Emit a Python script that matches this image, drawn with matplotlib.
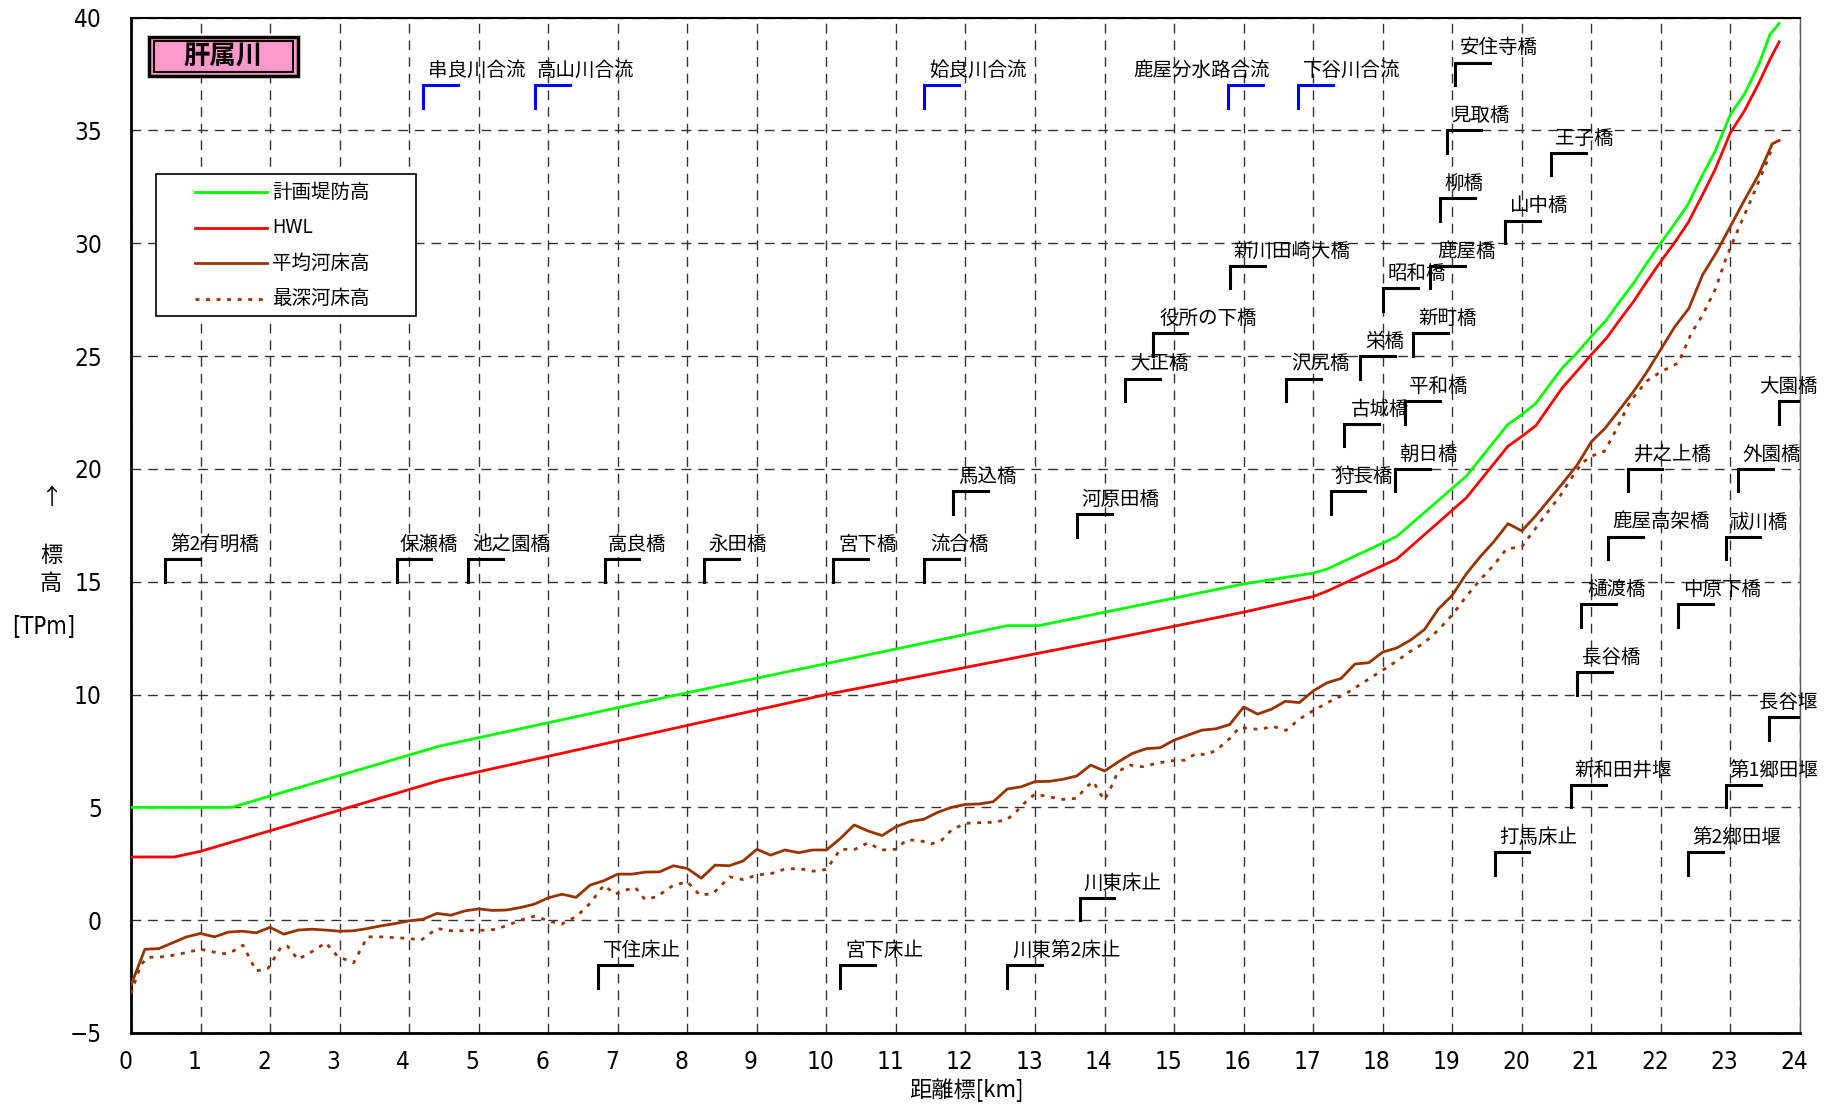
import matplotlib
matplotlib.use("Agg")
import matplotlib.pyplot as plt
from matplotlib import font_manager
from matplotlib.patches import Rectangle
from matplotlib.lines import Line2D
from matplotlib.transforms import ScaledTranslation

plt.rcParams['font.family'] = ['Noto Sans CJK JP', 'DejaVu Sans']

# 数字用の細字フォント（あれば長体を使う）
_fonts = font_manager.fontManager.ttflist
if any(f.name == 'Liberation Sans Narrow' for f in _fonts):
    NUM_FAMILY, NUM_STRETCH = 'Liberation Sans Narrow', 'normal'
elif any(f.name == 'DejaVu Sans' and str(f.stretch) in ('condensed', 'semi-condensed')
         for f in _fonts):
    NUM_FAMILY, NUM_STRETCH = 'DejaVu Sans', 'condensed'
else:
    NUM_FAMILY, NUM_STRETCH = 'Liberation Sans', 'normal'

# 計画堤防高
dike_km = [0, 1.45, 4.42, 8.0, 12.6, 13.05, 16.0, 17.0, 17.2, 18.2, 19.2, 19.8, 20.0, 20.2,
           20.58, 20.77, 21.0, 21.22, 21.41, 21.61, 21.8, 22.0, 22.2, 22.39, 22.59, 22.78,
           23.0, 23.2, 23.4, 23.57, 23.7]
dike_h = [5.0, 5.0, 7.7, 10.08, 13.05, 13.05, 14.9, 15.38, 15.56, 17.0, 19.67, 21.97, 22.4, 22.9,
          24.47, 25.06, 25.87, 26.61, 27.43, 28.24, 29.13, 30.01, 30.87, 31.72, 32.97, 34.08,
          35.71, 36.6, 37.86, 39.26, 39.73]

# HWL
hwl_km = [0, 0.62, 1.0, 4.45, 10.0, 12.0, 14.0, 16.0, 17.0, 17.2, 18.2, 19.2, 19.8, 20.0, 20.2,
          20.58, 20.77, 21.0, 21.22, 21.41, 21.61, 21.8, 22.0, 22.2, 22.39, 22.59, 22.78,
          23.0, 23.2, 23.4, 23.57, 23.7]
hwl_h = [2.8, 2.8, 3.05, 6.2, 10.0, 11.2, 12.4, 13.65, 14.34, 14.58, 16.0, 18.71, 21.0, 21.44, 21.91,
         23.58, 24.25, 25.06, 25.8, 26.61, 27.43, 28.31, 29.2, 30.04, 30.9, 32.09, 33.27,
         34.9, 35.86, 37.04, 38.15, 38.92]

# 平均河床高 (0.2km毎)
mean_km = [round(0.2 * i, 1) for i in range(119)] + [23.7]
mean_h = [-2.88, -1.29, -1.26, -1.00, -0.74, -0.59, -0.74, -0.53, -0.49, -0.56,
          -0.32, -0.62, -0.44, -0.40, -0.44, -0.49, -0.47, -0.37, -0.25, -0.15,
          -0.03, 0.04, 0.30, 0.22, 0.41, 0.50, 0.43, 0.45, 0.56, 0.71,
          0.99, 1.15, 1.01, 1.55, 1.75, 2.04, 2.04, 2.13, 2.14, 2.41,
          2.29, 1.86, 2.44, 2.41, 2.62, 3.14, 2.88, 3.11, 2.99, 3.11,
          3.11, 3.62, 4.22, 3.95, 3.75, 4.14, 4.37, 4.47, 4.78, 5.00,
          5.13, 5.15, 5.25, 5.81, 5.91, 6.14, 6.15, 6.24, 6.39, 6.87,
          6.61, 7.02, 7.39, 7.60, 7.64, 7.98, 8.20, 8.42, 8.48, 8.67,
          9.45, 9.13, 9.35, 9.70, 9.64, 10.16, 10.52, 10.71, 11.35, 11.41,
          11.88, 12.06, 12.41, 12.88, 13.79, 14.40, 15.34, 16.10, 16.78, 17.57,
          17.25, 17.92, 18.66, 19.41, 20.19, 21.20, 21.81, 22.60, 23.40, 24.30,
          25.30, 26.30, 27.10, 28.60, 29.60, 30.75, 31.90, 33.00, 34.40, 34.55]

# 最深河床高
deep_km = [0, 0.14, 0.24, 0.48, 0.67, 1.0, 1.3, 1.41, 1.61, 1.8, 1.97, 2.16, 2.25, 2.4, 2.6,
           2.8, 2.97, 3.2, 3.4, 3.6, 4.0, 4.17, 4.4, 4.65, 4.9, 5.05, 5.25, 5.45, 5.64, 5.81,
           6.0, 6.19, 6.41, 6.6, 6.8, 6.96, 7.08, 7.25, 7.39, 7.56, 7.8, 8.0, 8.18, 8.37, 8.61,
           8.8, 9.0, 9.21, 9.4, 9.6, 9.81, 10.0, 10.2, 10.41, 10.6, 10.79, 11.0, 11.15, 11.32,
           11.51, 11.66, 11.8, 12.0, 12.21, 12.4, 12.59, 12.73, 12.88, 13.0, 13.2, 13.4, 13.6,
           13.74, 13.84, 13.92, 14.0, 14.12, 14.19, 14.36, 14.55, 14.75, 14.94, 15.15, 15.32,
           15.46, 15.61, 15.8, 15.94, 16.23, 16.42, 16.61, 16.81, 17.0, 17.2, 17.47, 18.0,
           18.2, 18.39, 18.59, 18.8, 19.0, 19.2, 19.4, 19.6, 19.78, 20.0, 20.17, 20.36, 20.55,
           20.73, 20.87, 21.0, 21.19, 21.36, 21.56, 21.8, 22.0, 22.25, 22.44, 22.59, 22.78,
           22.93, 23.13, 23.32, 23.52, 23.59]
deep_h = [-3.25, -1.99, -1.65, -1.62, -1.52, -1.29, -1.48, -1.48, -1.11, -2.25, -2.14, -1.18,
          -1.15, -1.74, -1.40, -1.00, -1.60, -1.89, -0.74, -0.74, -0.81, -0.89, -0.37, -0.49,
          -0.44, -0.45, -0.41, -0.18, 0.04, 0.18, -0.03, -0.18, 0.18, 0.74, 1.55, 1.15, 1.30,
          1.45, 0.92, 1.04, 1.55, 1.70, 1.11, 1.18, 1.92, 1.80, 2.00, 2.07, 2.26, 2.29, 2.17,
          2.25, 3.14, 3.14, 3.43, 3.11, 3.14, 3.55, 3.55, 3.38, 3.55, 4.00, 4.29, 4.32, 4.34,
          4.44, 4.81, 5.29, 5.59, 5.47, 5.35, 5.40, 5.91, 6.14, 5.69, 5.32, 6.06, 6.58, 6.87,
          6.80, 6.95, 7.06, 7.09, 7.39, 7.32, 7.54, 8.05, 8.54, 8.45, 8.59, 8.41, 8.93, 9.28,
          9.63, 10.04, 11.08, 11.48, 11.90, 12.27, 12.86, 13.53, 14.34, 15.08, 15.75, 16.45,
          16.55, 17.25, 18.04, 18.80, 19.67, 20.27, 20.56, 20.78, 21.75, 23.00, 23.90, 24.30,
          24.69, 26.02, 26.76, 27.94, 29.28, 30.75, 32.09, 33.57, 34.16]

# 橋梁・堰・床止 (名称, 距離標, 引出線下端標高, 文字位置)
site_names = ["第2有明橋", "保瀬橋", "池之園橋", "高良橋", "永田橋", "宮下橋", "流合橋", "馬込橋",
              "河原田橋", "大正橋", "役所の下橋", "新川田崎大橋", "沢尻橋", "狩長橋", "古城橋",
              "栄橋", "昭和橋", "朝日橋", "平和橋", "新町橋", "鹿屋橋", "柳橋", "見取橋",
              "安住寺橋", "山中橋", "王子橋", "打馬床止", "新和田井堰", "長谷橋", "樋渡橋",
              "鹿屋高架橋", "井之上橋", "中原下橋", "第2郷田堰", "第1郷田堰", "祓川橋", "外園橋",
              "長谷堰", "大園橋", "川東床止", "下住床止", "宮下床止", "川東第2床止"]
site_km = [0.49, 3.82, 4.85, 6.81, 8.24, 10.10, 11.41, 11.82, 13.60, 14.29, 14.69, 15.80,
           16.61, 17.25, 17.44, 17.68, 18.0, 18.18, 18.32, 18.44, 18.68, 18.82, 18.92, 19.04,
           19.76, 20.42, 19.61, 20.71, 20.79, 20.85, 21.24, 21.52, 22.25, 22.39, 22.94, 22.93,
           23.11, 23.55, 23.70, 13.64, 6.71, 10.20, 12.60]
site_base = [15, 15, 15, 15, 15, 15, 15, 18, 17, 23, 25, 28, 23, 18, 21, 24, 27, 19, 22, 25,
             28, 31, 34, 37, 30, 33, 2, 5, 10, 13, 16, 19, 13, 2, 5, 16, 19, 8, 22, 0, -3, -3, -3]
site_text_km = [0.57, 3.86, 4.90, 6.86, 8.30, 10.17, 11.49, 11.90, 13.67, 14.37, 14.79, 15.86,
                16.68, 17.31, 17.54, 17.75, 18.07, 18.23, 18.38, 18.51, 18.79, 18.89, 18.98,
                19.11, 19.83, 20.48, 19.67, 20.76, 20.87, 20.94, 21.30, 21.61, 22.32, 22.45,
                22.98, 22.99, 23.17, 23.41, 23.41, 13.70, 6.78, 10.28, 12.68]

# 支川合流点
conf_names = ["串良川合流", "高山川合流", "姶良川合流", "鹿屋分水路合流", "下谷川合流"]
conf_km = [4.20, 5.81, 11.40, 15.78, 16.78]
conf_base = [36, 36, 36, 36, 36]
conf_text_km = [4.27, 5.84, 11.48, 14.42, 16.85]

GREEN = '#00FF00'
RED = '#FF0000'
BROWN = '#993300'
DOTTED = (0, (1.4, 2.4))

fig = plt.figure(figsize=(18.34, 11.06), dpi=100)
W, H = 1834, 1106
L, R, T, B = 131, 1800, 17.5, 1033
ax = fig.add_axes([L / W, 1 - B / H, (R - L) / W, (B - T) / H])


def axfrac(px, py):
    return (px - L) / (R - L), (B - py) / (B - T)


ax.set_xlim(0, 24)
ax.set_ylim(-5, 40)
ax.set_xticks(range(0, 25))
ax.set_yticks(range(-5, 41, 5))
ax.grid(True, color='#333333', linewidth=1.0, linestyle=(0, (7, 5)))
ax.set_axisbelow(True)

for side in ['left', 'bottom']:
    ax.spines[side].set_linewidth(2.0)
ax.spines['top'].set_linewidth(1.5)
ax.spines['right'].set_linewidth(1.0)
ax.spines['right'].set_color('#555555')

ax.tick_params(axis='both', length=0, labelsize=17.5)
ax.tick_params(axis='y', pad=21)
ax.tick_params(axis='x', pad=12)
shift = ScaledTranslation(-6 / 100, 0, fig.dpi_scale_trans)
for lab in ax.get_xticklabels():
    lab.set_fontfamily(NUM_FAMILY)
    lab.set_fontstretch(NUM_STRETCH)
    lab.set_transform(lab.get_transform() + shift)
for lab in ax.get_yticklabels():
    lab.set_fontfamily(NUM_FAMILY)
    lab.set_fontstretch(NUM_STRETCH)

# 縦断線
ax.plot(dike_km, dike_h, color=GREEN, lw=2.0, zorder=4)
ax.plot(hwl_km, hwl_h, color=RED, lw=2.0, zorder=4)
ax.plot(mean_km, mean_h, color=BROWN, lw=2.0, zorder=4)
ax.plot(deep_km, deep_h, color=BROWN, lw=2.0, linestyle=DOTTED, zorder=4)


# 引出線と名称
def draw_site(name, km, base, text_km, color):
    ax.plot([km, km, km + 0.5], [base, base + 1, base + 1], color=color, lw=2.2,
            solid_joinstyle='miter', zorder=5)
    ax.text(text_km, base + 1.65, name, fontsize=14, ha='left', va='center',
            color='black', zorder=6, clip_on=False)


for n, k, b0, tk in zip(site_names, site_km, site_base, site_text_km):
    draw_site(n, k, b0, tk, 'black')
for n, k, b0, tk in zip(conf_names, conf_km, conf_base, conf_text_km):
    draw_site(n, k, b0, tk, '#0000FF')

# 河川名
x0, y0 = axfrac(148.7, 76)
x1, y1 = axfrac(298.2, 37.3)
ax.add_patch(Rectangle((x0, y0), x1 - x0, y1 - y0, transform=ax.transAxes,
                       facecolor='#FF99CC', edgecolor='black', lw=2.5, zorder=7))
x0, y0 = axfrac(154, 72.3)
x1, y1 = axfrac(293, 41)
ax.add_patch(Rectangle((x0, y0), x1 - x0, y1 - y0, transform=ax.transAxes,
                       facecolor='none', edgecolor='black', lw=1.5, zorder=8))
tx, ty = axfrac(223, 56.5)
ax.text(tx, ty, "肝属川", transform=ax.transAxes, fontsize=19, fontweight='bold',
        ha='center', va='center', zorder=9)

# 凡例
x0, y0 = axfrac(156, 316)
x1, y1 = axfrac(416, 174)
ax.add_patch(Rectangle((x0, y0), x1 - x0, y1 - y0, transform=ax.transAxes,
                       facecolor='white', edgecolor='black', lw=1.2, zorder=7))
leg_items = [("計画堤防高", GREEN, '-'), ("HWL", RED, '-'),
             ("平均河床高", BROWN, '-'), ("最深河床高", BROWN, DOTTED)]
for i, (label, col, ls) in enumerate(leg_items):
    py = 192 + 35.5 * i
    lx0, ly = axfrac(195, py)
    lx1, _ = axfrac(267, py)
    ax.add_line(Line2D([lx0, lx1], [ly, ly], transform=ax.transAxes, color=col,
                       lw=2.0, linestyle=ls, zorder=8))
    tx, _ = axfrac(272, py)
    if label == "HWL":
        ax.text(tx, ly, label, transform=ax.transAxes, fontsize=14, ha='left', va='center',
                family=NUM_FAMILY, stretch=NUM_STRETCH, zorder=8)
    else:
        ax.text(tx, ly, label, transform=ax.transAxes, fontsize=14, ha='left', va='center',
                zorder=8)

# 軸ラベル
fig.text(51 / W, 1 - 497 / H, "↑", fontsize=16, ha='center', va='center')
fig.text(51 / W, 1 - 556 / H, "標", fontsize=16, ha='center', va='center')
fig.text(51 / W, 1 - 583 / H, "高", fontsize=16, ha='center', va='center')
fig.text(44 / W, 1 - 626 / H, "[TPm]", fontsize=17, ha='center', va='center',
         family=NUM_FAMILY, stretch=NUM_STRETCH)
fig.text(967 / W, 1 - 1090 / H, "距離標[km]", fontsize=16, ha='center', va='center')

fig.savefig("out.png", dpi=100)
